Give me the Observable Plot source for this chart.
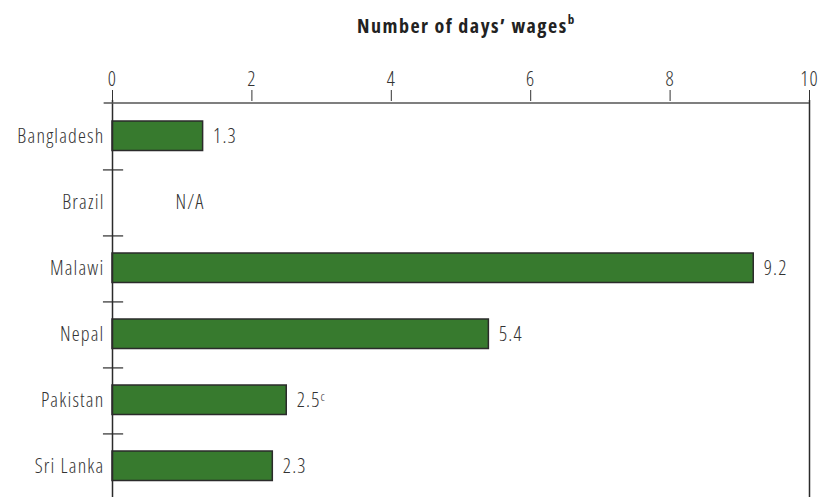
<!DOCTYPE html>
<html>
<head>
<meta charset="utf-8">
<script src="https://cdn.jsdelivr.net/npm/d3@7"></script>
<script src="https://cdn.jsdelivr.net/npm/@observablehq/plot@0.6"></script>
<style>
  html, body { margin: 0; padding: 0; background: #fff; }
  #wrap { position: relative; width: 819px; height: 497px; overflow: hidden; }
  #title { position: absolute; left: 357px; top: 11px; font-family: "Open Sans", sans-serif; font-weight: 700; font-stretch: 75%; font-size: 20px; letter-spacing: 1.5px; color: #222; white-space: nowrap; }
  #title sup { font-size: 13px; position: relative; top: -1px; }
  #chart { position: absolute; left: 0; top: 55px; }
  #chart svg text { font-stretch: 75%; font-weight: 300; letter-spacing: 1.2px; }
</style>
</head>
<body>
<div id="wrap">
  <div id="title">Number of days’ wages<sup>b</sup></div>
  <div id="chart"></div>
</div>
<script>
const categories = ["Bangladesh", "Brazil", "Malawi", "Nepal", "Pakistan", "Sri Lanka"];
const values = [1.3, null, 9.2, 5.4, 2.5, 2.3];
const notes = ["", "", "", "", "c", ""];
const xTicks = [0, 2, 4, 6, 8, 10];
const missingLabel = "N/A";

const rows = categories.map((c, i) => ({category: c, value: values[i], note: notes[i]}));
const present = rows.filter(d => d.value != null);
const missing = rows.filter(d => d.value == null);
const separators = rows.slice(0, -1);

const H = 442, MT = 45, MB = -4;
const step = (H - MB - MT) / categories.length;
const ink = "#2b2b2b";
const font = "'Open Sans', sans-serif";

const chart = Plot.plot({
  width: 819,
  height: H,
  marginTop: MT,
  marginBottom: MB,
  marginLeft: 112,
  marginRight: 10,
  style: {fontFamily: font, fontSize: "20px", color: "#333", background: "#fff"},
  x: {domain: [0, 10], axis: "top", ticks: xTicks, tickSize: 11, tickPadding: 4, label: null, tickFormat: d3.format("d")},
  y: {domain: categories, padding: 0, tickSize: 0, tickPadding: 8, label: null},
  marks: [
    Plot.barX(present, {x: "value", y: "category", fill: "#377a2e", stroke: ink, strokeWidth: 1.5, insetTop: 18, insetBottom: 18.5}),
    Plot.ruleX([0, 10], {stroke: ink, strokeWidth: 1.5}),
    Plot.ruleY(rows.slice(0, 1), {y: "category", x1: -0.12, x2: 10, dy: -step / 2, stroke: "#555", strokeWidth: 1.5}),
    Plot.ruleY(separators, {y: "category", x1: -0.13, x2: 0.16, dy: step / 2, stroke: ink, strokeWidth: 1.2}),
    Plot.text(present, {x: "value", y: "category", text: d => String(d.value), dx: 10, textAnchor: "start", fill: "#333", fontSize: 20, className: "vlabel"}),
    Plot.text(missing, {x: () => 0, y: "category", text: () => missingLabel, dx: 63, textAnchor: "start", fill: "#333", fontSize: 20})
  ]
});
document.getElementById("chart").appendChild(chart);

// add superscript footnote markers to value labels
d3.select(chart).selectAll("g.vlabel text").each(function(_, i) {
  const note = present[i] && present[i].note;
  if (note) {
    d3.select(this).append("tspan").attr("dy", "-0.45em").attr("font-size", "13px").text(note);
  }
});
</script>
</body>
</html>
